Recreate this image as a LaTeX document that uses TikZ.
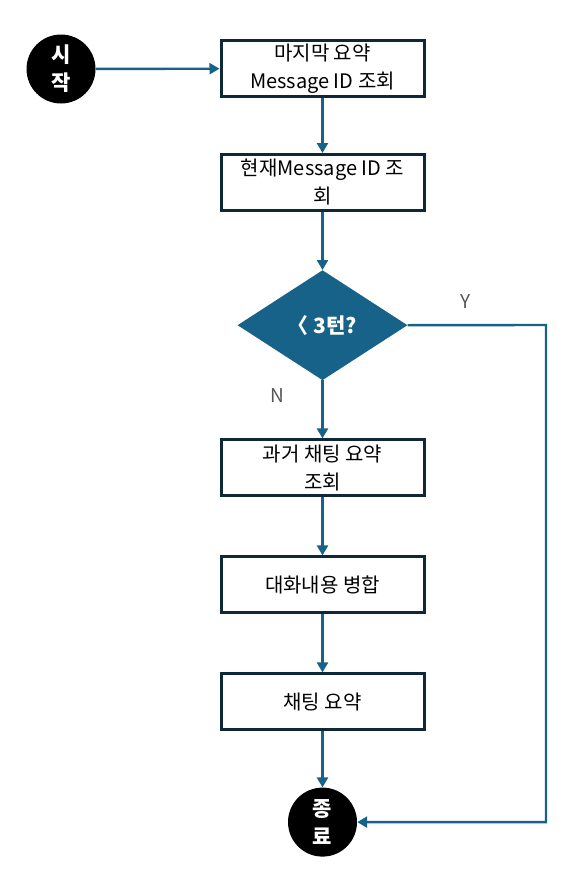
\documentclass[tikz,border=0pt]{standalone}
\usepackage{fontspec}
\setmainfont{Noto Sans CJK KR}
\usetikzlibrary{positioning,shapes.geometric,arrows.meta}

\definecolor{flowblue}{HTML}{176288}
\definecolor{boxline}{HTML}{0E2837}
\definecolor{labelgray}{HTML}{555555}

\tikzset{
    procbox/.style={draw=boxline, line width=3pt, fill=white, minimum width=203pt,
        minimum height=56pt, align=center, font=\fontsize{20}{28}\selectfont, inner sep=2pt},
    terminal/.style={circle, fill=black, minimum size=69pt, inner sep=0pt, text=white,
        align=center, font=\bfseries\fontsize{21}{28}\selectfont},
    decision/.style={diamond, fill=flowblue, minimum width=170pt, minimum height=110pt,
        inner sep=0pt, text=white, font=\bfseries\fontsize{21}{24}\selectfont},
    flow/.style={draw=flowblue, line width=2.4pt, -{Triangle[length=10pt,width=11pt]}},
    yn/.style={text=labelgray, font=\fontsize{19}{20}\selectfont}
}

\begin{document}
\begin{tikzpicture}[x=1pt, y=-1pt, node distance=58pt]
    \useasboundingbox (0,0) rectangle (587,870);
    % Define nodes
    \node (last) [procbox] at (322.5,68.5) {마지막 요약\\Message ID 조회};
    \node (start) [terminal] at (61,69) {시\\작};
    \node (curr) [procbox, below=55pt of last] {현재Message ID 조\\회};
    \node (turn) [decision, below=of curr] {〈 3턴?};
    \node (past) [procbox, below=of turn] {과거 채팅 요약\\조회};
    \node (merge) [procbox, below=of past] {대화내용 병합};
    \node (summ) [procbox, below=of merge] {채팅 요약};
    \node (stop) [terminal, below=56pt of summ] {종\\료};
    \coordinate (corner) at (546,325);

    \node (yes) [yn] at (466,302) {Y};
    \node (no) [yn] at (277,396) {N};

    % Draw arrows
    \draw[flow] (start) -- (last);
    \draw[flow] (last) -- (curr);
    \draw[flow] (curr) -- (turn);
    \draw[flow] (turn) -- (past);
    \draw[flow] (past) -- (merge);
    \draw[flow] (merge) -- (summ);
    \draw[flow] (summ) -- (stop);
    \draw[flow] (turn.east) -- (corner) |- (stop.east);
\end{tikzpicture}
\end{document}
